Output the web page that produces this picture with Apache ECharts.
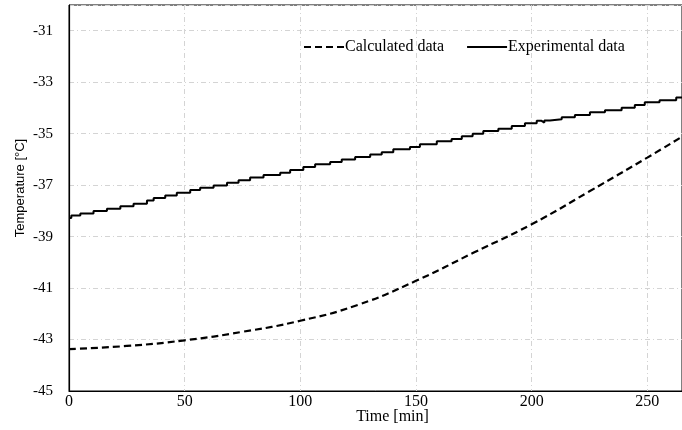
<!DOCTYPE html>
<html>
<head>
<meta charset="utf-8">
<script src="https://cdn.jsdelivr.net/npm/echarts@6/dist/echarts.min.js"></script>
<style>
  html, body { margin: 0; padding: 0; background: #fff; }
  #main { width: 682px; height: 430px; }
</style>
</head>
<body>
<div id="main"></div>
<script>
// calculated temperature, smooth curve [min, °C]
var calcTime = [0, 25, 50, 75, 100, 125, 150, 175, 200, 225, 250, 265];
var calcTemp = [-43.37, -43.25, -43.03, -42.70, -42.27, -41.65, -40.72, -39.62, -38.52, -37.24, -35.93, -35.12];

// experimental data, logged in 0.1 degree steps (time where each step starts)
var expTime = [0, 1.0, 4.9, 10.6, 16.4, 22.2, 27.9, 33.7, 36.6, 41.6, 46.6,
  52.4, 56.7, 62.5, 68.3, 73.3, 78.3, 84.1, 91.3, 95.6, 101.3,
  106.4, 112.9, 117.9, 123.7, 130.2, 135.2, 140.2, 147.4, 151.7,
  159.0, 165.4, 169.8, 174.5, 179.1, 185.6, 191.4, 197.1, 202.2, 204.3, 205.5,
  207.9, 213.0, 218.7, 225.2, 231.7, 238.9, 244.6, 248.9, 255.3, 262.5, 265];
var expTemp = [-38.28, -38.18, -38.10, -38.01, -37.92, -37.82, -37.72, -37.60, -37.50, -37.40, -37.30,
  -37.19, -37.10, -37.01, -36.91, -36.81, -36.70, -36.61, -36.52, -36.41, -36.30,
  -36.19, -36.10, -36.00, -35.91, -35.81, -35.72, -35.61, -35.52, -35.41,
  -35.29, -35.21, -35.10, -35.00, -34.90, -34.81, -34.70, -34.60, -34.50, -34.57, -34.49,
  -34.44, -34.36, -34.27, -34.17, -34.09, -33.99, -33.89, -33.78, -33.70, -33.59, -33.59];

function pairs(xs, ys) {
  var out = [];
  for (var i = 0; i < xs.length; i++) out.push([xs[i], ys[i]]);
  return out;
}

var serif = 'Liberation Serif';
var gridLine = { show: true, lineStyle: { color: '#d4d4d4', width: 1, type: [5, 3, 1, 3] } };

var myChart = echarts.init(document.getElementById('main'));

var option = {
  animation: false,
  backgroundColor: '#fff',
  grid: {
    left: 69, right: 0, top: 5, bottom: 32,
    show: true, borderColor: '#000', borderWidth: 1
  },
  legend: {
    left: 298,
    top: 34,
    itemWidth: 40,
    itemHeight: 14,
    itemGap: 22,
    itemStyle: { opacity: 0 },
    textStyle: { fontFamily: serif, fontSize: 16, color: '#000', padding: [0, 0, 0, -4] },
    data: ['Calculated data', 'Experimental data']
  },
  xAxis: {
    type: 'value',
    min: 0,
    max: 265,
    interval: 50,
    name: 'Time [min]',
    nameLocation: 'middle',
    nameGap: 18,
    nameMoveOverlap: false,
    nameTextStyle: { fontFamily: serif, fontSize: 16, color: '#000', padding: [0, 0, 0, 34] },
    axisLine: { lineStyle: { color: '#000', width: 1.2 } },
    axisTick: { show: false },
    axisLabel: { fontFamily: serif, fontSize: 16, color: '#000', margin: 3, showMaxLabel: false },
    splitLine: gridLine
  },
  yAxis: {
    type: 'value',
    min: -45,
    max: -30,
    interval: 2,
    name: 'Temperature [°C]',
    nameLocation: 'middle',
    nameGap: 42,
    nameMoveOverlap: false,
    nameTextStyle: { fontFamily: 'Liberation Sans', fontSize: 13, color: '#000', padding: [0, 0, 0, 20] },
    axisLine: { show: true, lineStyle: { color: '#000', width: 1.2 } },
    axisTick: { show: false },
    axisLabel: { fontFamily: serif, fontSize: 15, color: '#000', margin: 16, showMaxLabel: false },
    splitLine: gridLine
  },
  series: [
    {
      name: 'Calculated data',
      type: 'line',
      smooth: true,
      symbol: 'none',
      lineStyle: { color: '#000', width: 2.2, type: [7, 4] },
      itemStyle: { color: '#000' },
      data: pairs(calcTime, calcTemp)
    },
    {
      name: 'Experimental data',
      type: 'line',
      step: 'end',
      symbol: 'none',
      lineStyle: { color: '#000', width: 2 },
      itemStyle: { color: '#000' },
      data: pairs(expTime, expTemp)
    }
  ]
};

myChart.setOption(option);
</script>
</body>
</html>
